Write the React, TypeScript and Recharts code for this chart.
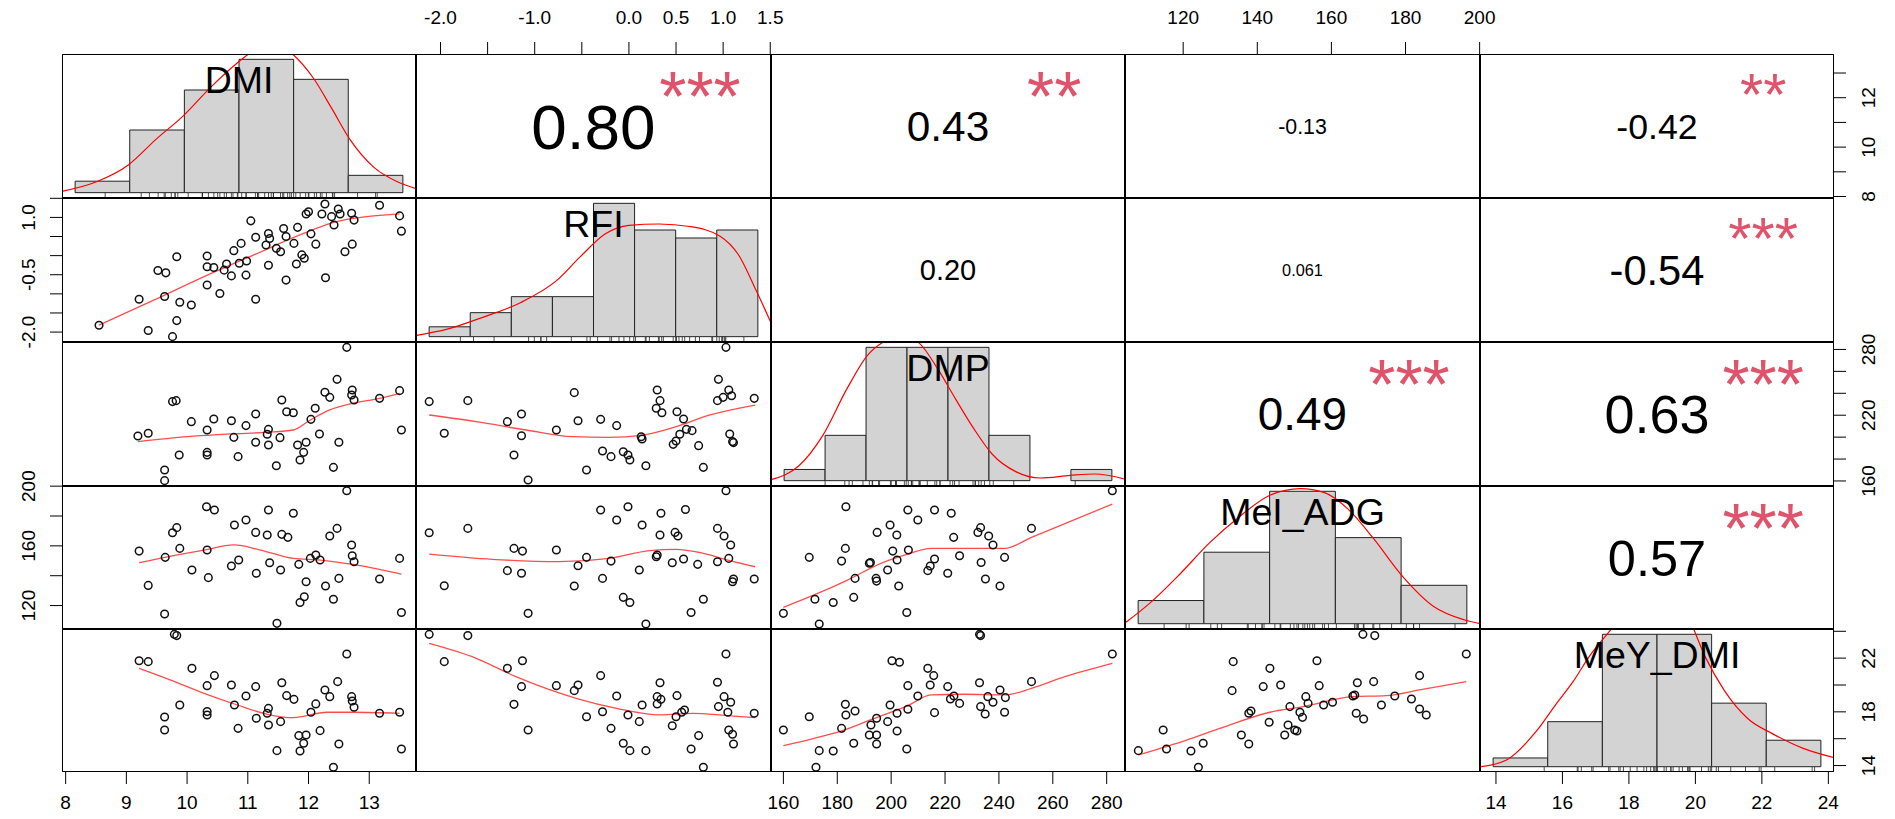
import React from "react";
import { ComposedChart, XAxis, YAxis, Scatter, Line, ReferenceArea } from "recharts";

const FONT = '"Liberation Sans", Arial, Helvetica, sans-serif';

// variable names on the diagonal
const varNames = ["DMI", "RFI", "DMP", "MeI_ADG", "MeY_DMI"];

// axis limits of each variable (data range + 4% like R)
const limits: [number, number][] = [
  [7.94, 13.77],
  [-2.26, 1.508],
  [155.4, 286.8],
  [104.3, 200.1],
  [13.52, 24.17],
];

// tick values and which ones carry a label
const dmiTicks = [8, 9, 10, 11, 12, 13];
const rfiTicks = [-2, -1.5, -1, -0.5, 0, 0.5, 1, 1.5];
const dmpTicks = [160, 180, 200, 220, 240, 260, 280];
const meiTicks = [120, 140, 160, 180, 200];
const meyTicks = [14, 16, 18, 20, 22, 24];

// scatter panels: [x, y]
const rfiVsDmi: [number, number][] = [
  [8.55, -1.82], [9.36, -1.96], [9.76, -2.12], [9.83, -1.7], [9.21, -1.14], [9.63, -1.07], [9.88, -1.22], [10.07, -1.29],
  [9.52, -0.39], [9.65, -0.45], [9.83, -0.03], [10.33, -0.01], [10.33, -0.29], [10.44, -0.31], [10.33, -0.77], [10.54, -0.99],
  [10.61, -0.38], [10.65, -0.22], [10.73, -0.53], [10.77, 0.13], [10.86, -0.2], [10.89, 0.32], [10.98, -0.14], [10.97, -0.51],
  [11.13, -1.14], [11.05, 0.91], [11.13, 0.48], [11.3, 0.28], [11.34, 0.58], [11.36, 0.45], [11.34, -0.25], [11.47, 0.19],
  [11.54, 0.1], [11.59, 0.71], [11.63, 0.5], [11.63, -0.64], [11.76, 0.32], [11.82, 0.74], [11.8, -0.22], [11.89, 0.02],
  [11.93, -0.07], [12.0, 1.15], [12.04, 0.57], [12.12, 0.3], [12.28, -0.58], [12.27, 1.35], [12.22, 1.09], [12.38, 1.02],
  [12.49, 1.22], [12.52, 1.09], [12.42, 0.8], [12.6, 0.1], [12.72, 0.3], [12.71, 1.11], [12.75, 0.93], [13.17, 1.32],
  [13.5, 1.04], [13.53, 0.64], [11.96, 1.09],
];
const rfiVsDmiFit: [number, number][] = [
  [8.55, -1.82], [9.46, -1.16], [10.28, -0.55], [11.1, 0.02], [11.92, 0.58], [12.46, 0.89], [13.5, 1.09],
];

const dmpVsDmi: [number, number][] = [
  [12.63, 281.9], [12.47, 252.7], [12.27, 240.9], [12.35, 236.3], [12.72, 243.0], [12.71, 238.4], [12.75, 233.9], [13.17, 235.4],
  [13.5, 242.4], [13.53, 206.5], [9.76, 232.4], [9.82, 233.3], [9.19, 201.0], [9.36, 203.5], [10.07, 214.1], [10.33, 206.5],
  [10.44, 216.5], [10.73, 215.0], [10.97, 210.5], [11.13, 221.1], [10.77, 199.8], [11.13, 195.3], [11.34, 207.1], [11.34, 192.8],
  [11.32, 202.6], [11.53, 199.5], [11.56, 233.9], [11.64, 223.2], [11.75, 222.3], [12.11, 226.3], [12.04, 216.2], [12.18, 202.9],
  [11.82, 192.8], [11.96, 195.3], [11.92, 186.1], [11.86, 179.1], [11.47, 173.9], [10.84, 182.2], [10.33, 186.1], [10.33, 183.7],
  [9.87, 183.7], [9.63, 170.0], [9.63, 160.3], [12.41, 172.4], [12.5, 195.3],
];
const dmpVsDmiFit: [number, number][] = [
  [9.19, 195.9], [10.01, 200.4], [10.72, 202.9], [11.32, 204.4], [11.75, 206.5], [12.03, 215.6], [12.35, 224.8],
  [12.73, 230.8], [13.17, 235.4], [13.5, 240.0],
];

const dmpVsRfi: [number, number][] = [
  [-2.12, 232.4], [-1.96, 203.5], [-1.71, 233.3], [-1.29, 214.1], [-1.14, 221.1], [-1.14, 201.3], [-1.22, 183.7], [-1.07, 160.9],
  [-0.77, 206.5], [-0.58, 240.6], [-0.54, 215.0], [-0.45, 170.0], [-0.3, 216.2], [-0.28, 187.3], [-0.19, 182.2], [-0.13, 210.5],
  [-0.06, 186.7], [-0.01, 183.7], [0.01, 179.1], [0.13, 200.4], [0.14, 198.3], [0.18, 173.9], [0.3, 243.0], [0.33, 233.3],
  [0.29, 226.3], [0.35, 222.3], [0.51, 223.2], [0.58, 216.5], [0.61, 207.1], [0.67, 205.9], [0.54, 202.6], [0.5, 196.5],
  [0.47, 193.4], [0.74, 192.2], [0.79, 172.4], [0.95, 252.7], [1.03, 281.9], [1.06, 243.0], [0.94, 233.3], [1.0, 236.3],
  [1.09, 237.8], [1.07, 202.9], [1.1, 195.9], [1.11, 195.0], [1.33, 235.4],
];
const dmpVsRfiFit: [number, number][] = [
  [-2.12, 220.2], [-1.62, 214.1], [-1.09, 206.5], [-0.6, 200.4], [-0.21, 199.8], [0.15, 201.9], [0.5, 209.5], [0.86, 220.2], [1.34, 229.3],
];

const meiVsDmi: [number, number][] = [
  [12.63, 196.9], [10.32, 186.2], [10.45, 184.0], [11.34, 184.0], [11.75, 181.8], [10.97, 177.3], [10.78, 174.0], [11.13, 169.0],
  [11.32, 167.3], [11.56, 167.7], [11.66, 165.7], [9.83, 172.2], [9.76, 168.8], [9.88, 158.3], [9.21, 156.5], [9.64, 152.3],
  [10.33, 157.2], [10.08, 143.8], [10.35, 138.7], [9.36, 133.5], [9.63, 114.3], [10.73, 146.5], [10.85, 150.5], [11.14, 141.6],
  [11.36, 148.7], [11.54, 143.8], [11.48, 108.1], [11.84, 147.6], [12.03, 151.6], [12.12, 153.9], [12.19, 150.5], [11.96, 136.0],
  [11.93, 125.9], [11.86, 122.1], [12.28, 133.1], [12.41, 124.2], [12.5, 138.2], [12.35, 166.6], [12.47, 171.7], [12.71, 160.6],
  [12.72, 153.4], [12.75, 149.4], [13.17, 137.8], [13.5, 151.6], [13.53, 115.4],
];
const meiVsDmiFit: [number, number][] = [
  [9.21, 148.7], [9.63, 152.3], [10.28, 157.2], [10.77, 160.6], [11.21, 157.2], [11.75, 151.6], [12.19, 150.5], [12.73, 147.6], [13.53, 141.1],
];

const meiVsRfi: [number, number][] = [
  [-2.12, 168.8], [-1.71, 171.7], [-1.96, 133.3], [-1.22, 158.3], [-1.13, 156.5], [-1.29, 143.4], [-1.14, 141.6], [-1.07, 114.8],
  [-0.77, 157.2], [-0.58, 133.1], [-0.54, 146.7], [-0.45, 152.3], [-0.3, 184.0], [-0.28, 138.2], [-0.19, 149.8], [-0.13, 177.3],
  [-0.06, 125.5], [-0.01, 186.2], [0.01, 122.1], [0.11, 143.8], [0.14, 174.0], [0.18, 107.6], [0.3, 153.9], [0.33, 167.3],
  [0.34, 181.8], [0.49, 169.0], [0.52, 166.6], [0.46, 148.7], [0.58, 151.2], [0.6, 184.4], [0.66, 115.4], [0.73, 147.6],
  [0.79, 124.2], [0.94, 171.7], [1.01, 166.6], [1.08, 160.6], [1.03, 196.9], [0.94, 149.4], [1.06, 151.6], [1.11, 137.8],
  [1.1, 136.0], [1.33, 137.8], [0.29, 152.7],
];
const meiVsRfiFit: [number, number][] = [
  [-2.12, 154.5], [-1.45, 151.0], [-0.74, 149.4], [-0.21, 151.6], [0.22, 156.8], [0.5, 157.7], [0.79, 155.0], [1.07, 150.1], [1.34, 146.0],
];

const meiVsDmp: [number, number][] = [
  [282.1, 196.9], [160.0, 114.8], [173.3, 107.6], [171.7, 124.2], [178.5, 122.1], [186.1, 125.5], [169.6, 152.3], [183.2, 186.2],
  [183.0, 158.3], [181.6, 149.8], [186.6, 138.2], [191.9, 148.3], [192.3, 148.9], [194.4, 138.2], [194.6, 136.4], [198.7, 143.8],
  [194.8, 169.0], [199.6, 174.0], [202.1, 167.3], [200.6, 156.5], [202.2, 150.5], [202.8, 133.1], [206.2, 184.0], [209.9, 177.3],
  [206.4, 157.2], [205.8, 115.4], [213.6, 143.4], [214.5, 146.5], [216.1, 151.2], [216.1, 184.0], [221.0, 141.6], [222.3, 181.8],
  [223.2, 165.7], [225.4, 153.4], [232.2, 169.0], [233.2, 172.2], [236.2, 166.6], [237.8, 160.6], [233.4, 148.9], [235.0, 137.8],
  [242.1, 152.3], [240.4, 133.1], [252.1, 171.7],
];
const meiVsDmpFit: [number, number][] = [
  [160.0, 118.8], [171.4, 127.1], [183.8, 137.1], [196.2, 148.3], [206.2, 154.5], [214.8, 158.3], [227.3, 158.3],
  [242.1, 158.3], [252.1, 165.7], [264.5, 174.9], [282.1, 188.0],
];

const meyVsDmi: [number, number][] = [
  [9.79, 23.77], [9.83, 23.68], [9.21, 21.81], [9.36, 21.74], [10.08, 21.24], [12.63, 22.31], [10.45, 20.7], [10.33, 19.95],
  [10.73, 20.0], [11.13, 19.88], [10.97, 19.18], [11.56, 20.17], [11.64, 19.21], [11.76, 18.93], [12.27, 19.63], [12.35, 19.13],
  [12.48, 20.25], [12.71, 19.13], [12.72, 18.81], [12.75, 18.34], [12.12, 18.59], [12.04, 17.97], [13.17, 17.89], [13.5, 17.97],
  [13.53, 15.23], [9.88, 18.51], [9.63, 17.62], [9.63, 16.65], [10.33, 18.02], [10.33, 17.77], [10.78, 18.51], [10.84, 16.77],
  [11.14, 17.52], [11.34, 18.26], [11.34, 17.02], [11.54, 17.27], [11.32, 17.89], [11.84, 16.23], [11.96, 16.28], [11.92, 15.66],
  [11.86, 15.08], [11.48, 15.11], [12.19, 16.6], [12.5, 15.61], [12.41, 13.87],
];
const meyVsDmiFit: [number, number][] = [
  [9.21, 21.24], [9.73, 20.37], [10.28, 19.38], [10.83, 18.51], [11.32, 17.82], [11.75, 17.57], [12.3, 17.97], [12.74, 17.97], [13.5, 17.89],
];

const meyVsRfi: [number, number][] = [
  [-2.12, 23.77], [-1.71, 23.68], [-1.96, 21.74], [-1.29, 21.24], [-1.13, 21.81], [-1.14, 19.88], [-1.22, 18.56], [-1.07, 16.65],
  [-0.77, 19.95], [-0.58, 19.58], [-0.54, 20.0], [-0.3, 20.7], [-0.13, 19.18], [-0.45, 17.64], [-0.28, 18.01], [-0.19, 16.77],
  [-0.01, 17.77], [0.11, 17.27], [0.14, 18.51], [-0.06, 15.66], [0.01, 15.11], [0.18, 15.11], [0.33, 20.17], [0.3, 19.13],
  [0.34, 18.93], [0.3, 18.59], [0.51, 19.21], [0.46, 16.97], [0.5, 17.64], [0.56, 17.97], [0.59, 18.14], [0.74, 16.23],
  [0.66, 15.23], [0.79, 13.87], [1.03, 22.31], [0.94, 20.2], [1.01, 19.13], [1.08, 18.71], [0.95, 18.39], [1.05, 17.97],
  [1.06, 16.65], [1.1, 16.33], [1.11, 15.61], [1.33, 17.89],
];
const meyVsRfiFit: [number, number][] = [
  [-2.12, 23.1], [-1.62, 21.99], [-1.2, 20.62], [-0.56, 19.01], [-0.13, 18.26], [0.33, 17.77], [0.68, 17.89], [1.04, 17.72], [1.34, 17.57],
];

const meyVsDmp: [number, number][] = [
  [160.0, 16.65], [169.6, 17.64], [172.1, 13.87], [173.3, 15.11], [178.5, 15.08], [186.1, 15.66], [181.6, 16.77], [183.0, 18.56],
  [183.2, 17.77], [186.6, 18.06], [191.9, 16.28], [192.5, 17.02], [194.6, 17.52], [194.6, 16.28], [194.6, 15.61], [198.7, 17.27],
  [199.6, 18.51], [202.2, 17.89], [202.2, 16.57], [200.3, 21.81], [203.1, 21.69], [206.2, 19.95], [206.2, 18.19], [205.8, 15.23],
  [209.9, 19.18], [213.6, 21.24], [215.8, 20.7], [214.5, 20.0], [216.1, 17.94], [221.0, 19.88], [222.0, 18.96], [223.3, 19.18],
  [225.4, 18.63], [232.8, 20.17], [233.2, 18.39], [234.9, 17.84], [235.9, 19.13], [237.8, 18.71], [240.4, 19.63], [242.4, 19.06],
  [242.1, 17.97], [252.1, 20.25], [282.1, 22.31], [232.8, 23.77], [233.2, 23.68],
];
const meyVsDmpFit: [number, number][] = [
  [160.0, 15.48], [171.4, 16.03], [181.4, 16.57], [193.8, 17.52], [206.2, 18.46], [214.8, 19.26], [227.3, 19.31],
  [242.1, 19.26], [252.1, 19.75], [264.5, 20.62], [282.1, 21.61],
];

const meyVsMei: [number, number][] = [
  [107.9, 15.11], [114.6, 16.65], [115.5, 15.23], [122.1, 15.08], [124.1, 13.87], [125.4, 15.66], [133.5, 21.74], [133.2, 19.58],
  [135.7, 16.28], [137.7, 15.61], [137.7, 17.89], [138.3, 18.06], [141.6, 19.88], [143.4, 21.24], [143.2, 17.22], [146.3, 20.0],
  [147.4, 16.28], [148.3, 17.02], [148.8, 18.39], [150.1, 16.65], [150.7, 16.57], [151.5, 17.97], [152.2, 17.59], [153.1, 19.13],
  [153.7, 18.63], [156.1, 21.81], [156.7, 19.95], [157.9, 18.51], [160.3, 18.71], [165.8, 19.18], [166.3, 19.26], [167.0, 20.17],
  [166.7, 17.89], [168.7, 17.47], [171.4, 20.25], [173.5, 18.51], [177.1, 19.18], [181.6, 18.96], [183.8, 20.7], [183.8, 18.21],
  [185.6, 17.77], [196.4, 22.31], [168.5, 23.77], [171.7, 23.68],
];
const meyVsMeiFit: [number, number][] = [
  [107.9, 14.79], [120.9, 15.9], [129.9, 16.77], [143.4, 17.97], [152.4, 18.39], [165.8, 19.13], [174.8, 19.21], [183.8, 19.63], [196.4, 20.25],
];

// histograms: breaks, bar heights (relative density), density curve
const dmiBreaks = [8, 9, 10, 11, 12, 13, 14];
const dmiHeights = [0.086, 0.47, 0.77, 1, 0.85, 0.13];
const dmiDensity: [number, number][] = [
  [7.76, 0.01], [8.38, 0.08], [8.98, 0.21], [9.48, 0.4], [9.99, 0.58], [10.48, 0.79], [10.99, 0.98], [11.36, 1.09],
  [11.65, 1.13], [11.98, 1.04], [12.36, 0.86], [12.7, 0.63], [13.03, 0.4], [13.47, 0.19], [13.91, 0.08], [14.24, 0.03],
];
const rfiBreaks = [-2.5, -2, -1.5, -1, -0.5, 0, 0.5, 1, 1.5];
const rfiHeights = [0.074, 0.18, 0.3, 0.3, 1, 0.8, 0.74, 0.8];
const rfiDensity: [number, number][] = [
  [-2.65, 0.01], [-2.28, 0.056], [-1.84, 0.147], [-1.39, 0.255], [-0.95, 0.42], [-0.66, 0.6], [-0.36, 0.77],
  [-0.07, 0.835], [0.3, 0.845], [0.67, 0.826], [1.04, 0.754], [1.26, 0.618], [1.48, 0.346], [1.67, 0.09],
];
const dmpBreaks = [140, 160, 180, 200, 220, 240, 260, 280, 300];
const dmpHeights = [0.084, 0.34, 1, 1, 1, 0.34, 0, 0.084];
const dmpDensity: [number, number][] = [
  [134.1, 0.01], [147.1, 0.11], [158.9, 0.34], [170.7, 0.69], [180.7, 0.94], [188.4, 1.04], [197.2, 1.09], [206.1, 1.03],
  [214.9, 0.84], [223.8, 0.61], [232.6, 0.39], [241.5, 0.2], [253.3, 0.066], [265.1, 0.02], [279.8, 0.04], [291.6, 0.05], [307.0, 0.01],
];
const meiBreaks = [100, 120, 140, 160, 180, 200];
const meiHeights = [0.175, 0.54, 1, 0.65, 0.29];
const meiDensity: [number, number][] = [
  [96.3, 0.011], [103.3, 0.15], [112.5, 0.37], [121.7, 0.61], [130.9, 0.81], [140.1, 0.97], [149.4, 1.02],
  [156.7, 0.99], [164.1, 0.86], [171.4, 0.65], [180.7, 0.35], [189.9, 0.13], [199.1, 0.03], [204.2, 0.0],
];
const meyBreaks = [12, 14, 16, 18, 20, 22, 24];
const meyHeights = [0.066, 0.34, 1, 1, 0.48, 0.2];
const meyDensity: [number, number][] = [
  [11.56, 0.0], [12.49, 0.05], [13.59, 0.27], [14.26, 0.46], [14.92, 0.64], [15.58, 0.85], [16.25, 1.02], [16.91, 1.19],
  [17.66, 1.33], [18.46, 1.33], [19.12, 1.14], [19.79, 0.82], [20.45, 0.58], [21.34, 0.36], [22.22, 0.25], [23.33, 0.14], [24.52, 0.066],
];

// upper triangle: correlation and significance stars
const corrRows = [0, 0, 0, 0, 1, 1, 1, 2, 2, 3];
const corrCols = [1, 2, 3, 4, 2, 3, 4, 3, 4, 4];
const corrText = ["0.80", "0.43", "-0.13", "-0.42", "0.20", "0.061", "-0.54", "0.49", "0.63", "0.57"];
const corrStars = ["***", "**", "", "**", "", "", "***", "***", "***", "***"];

// layout of the grid (px)
const colX = [62, 416, 771, 1125, 1480, 1834];
const rowY = [54, 198, 342, 486, 629, 772];
const M0 = { top: 0, right: 0, bottom: 0, left: 0 };
const TICK_FS = 19;

const toXY = (a: [number, number][]) => a.map(([x, y]) => ({ x, y }));

// rough Arial widths, used the way R sizes the text (cex = 0.8/strwidth)
const emWidth = (s: string) =>
  s.split("").reduce((w, ch) => w + (ch === "." ? 0.278 : ch === "-" ? 0.333 : 0.556), 0);

const Ring = (p: any) => <circle cx={p.cx} cy={p.cy} r={3.8} fill="none" stroke="#111" strokeWidth={1.5} />;
const RugTick = (p: any) => <line x1={p.cx} x2={p.cx} y1={p.cy} y2={p.cy - 5} stroke="#222" strokeWidth={0.8} />;

const CorrLabel = (p: any) => {
  const t: string = p.payload.t;
  const fs = (113 * (Math.abs(parseFloat(t)) + 0.3)) / emWidth(t);
  return (
    <text x={p.cx} y={p.cy + 0.358 * fs} textAnchor="middle" fontSize={fs} fontFamily={FONT} fill="#000">
      {t}
    </text>
  );
};
const StarLabel = (p: any) => {
  const fs = 136 / emWidth(p.payload.t);
  return (
    <text x={p.cx} y={p.cy - 2 + 0.58 * fs} textAnchor="middle" fontSize={fs} fontFamily={FONT} fill="#DF536B">
      {p.payload.s}
    </text>
  );
};

function ScatterPanel({ row, col, pts, fit }: { row: number; col: number; pts: [number, number][]; fit: [number, number][] }) {
  const w = colX[col + 1] - colX[col];
  const h = rowY[row + 1] - rowY[row];
  return (
    <div style={{ position: "absolute", left: colX[col], top: rowY[row] }}>
      <ComposedChart width={w} height={h} margin={M0}>
        <XAxis type="number" dataKey="x" domain={limits[col]} hide />
        <YAxis type="number" dataKey="y" domain={limits[row]} hide />
        <Line data={toXY(fit)} dataKey="y" type="monotone" stroke="#FF2020" strokeOpacity={0.8} strokeWidth={1.3} dot={false} isAnimationActive={false} />
        <Scatter data={toXY(pts)} shape={Ring} isAnimationActive={false} />
      </ComposedChart>
    </div>
  );
}

function HistPanel({ i, breaks, heights, dens, rug }: { i: number; breaks: number[]; heights: number[]; dens: [number, number][]; rug: number[] }) {
  const w = colX[i + 1] - colX[i];
  const h = rowY[i + 1] - rowY[i];
  const span = breaks[breaks.length - 1] - breaks[0];
  const xDom: [number, number] = [breaks[0] - 0.04 * span, breaks[breaks.length - 1] + 0.04 * span];
  return (
    <div style={{ position: "absolute", left: colX[i], top: rowY[i] }}>
      <ComposedChart width={w} height={h} margin={M0}>
        <XAxis type="number" dataKey="x" domain={xDom} hide allowDataOverflow />
        <YAxis type="number" dataKey="y" domain={[-0.04, 1.04]} hide allowDataOverflow />
        {heights.map((v, k) => (
          <ReferenceArea key={k} x1={breaks[k]} x2={breaks[k + 1]} y1={0} y2={v} fill="#D3D3D3" fillOpacity={1} stroke="#222" strokeWidth={1} ifOverflow="visible" />
        ))}
        <Line data={toXY(dens)} dataKey="y" type="monotone" stroke="#FF0000" strokeWidth={1.2} dot={false} isAnimationActive={false} />
        <Scatter data={rug.map((x) => ({ x, y: -0.04 }))} shape={RugTick} isAnimationActive={false} />
      </ComposedChart>
    </div>
  );
}

function CorrPanel({ k }: { k: number }) {
  const row = corrRows[k];
  const col = corrCols[k];
  const w = colX[col + 1] - colX[col];
  const h = rowY[row + 1] - rowY[row];
  return (
    <div style={{ position: "absolute", left: colX[col], top: rowY[row] }}>
      <ComposedChart width={w} height={h} margin={M0}>
        <XAxis type="number" dataKey="x" domain={[0, 1]} hide />
        <YAxis type="number" dataKey="y" domain={[0, 1]} hide />
        <Scatter data={[{ x: 0.5, y: 0.5, t: corrText[k] }]} shape={CorrLabel} isAnimationActive={false} />
        {corrStars[k] && (
          <Scatter data={[{ x: 0.8, y: 0.8, t: corrText[k], s: corrStars[k] }]} shape={StarLabel} isAnimationActive={false} />
        )}
      </ComposedChart>
    </div>
  );
}

// outer axis along the top or bottom of a column
function XStrip({ col, side, ticks, shown, digits }: { col: number; side: "top" | "bottom"; ticks: number[]; shown: number[]; digits: number }) {
  const w = colX[col + 1] - colX[col];
  const H = side === "top" ? rowY[0] : 819 - rowY[5];
  return (
    <div style={{ position: "absolute", left: colX[col], top: side === "top" ? 0 : rowY[5] - 1 }}>
      <ComposedChart width={w} height={H + 1} margin={M0} data={ticks.map((v) => ({ x: v }))}>
        <XAxis
          type="number"
          dataKey="x"
          domain={limits[col]}
          allowDataOverflow
          orientation={side}
          height={H}
          ticks={ticks}
          interval={0}
          tickSize={12}
          tickMargin={side === "top" ? 18 : 12}
          axisLine={false}
          tickLine={{ stroke: "#000" }}
          tick={{ fontSize: TICK_FS, fill: "#000", fontFamily: FONT }}
          tickFormatter={(v: number) => (shown.includes(v) ? v.toFixed(digits) : "")}
        />
        <YAxis hide domain={[0, 1]} />
      </ComposedChart>
    </div>
  );
}

// outer axis along the left or right of a row, labels turned like R does
function YStrip({ row, side, ticks, shown, digits }: { row: number; side: "left" | "right"; ticks: number[]; shown: number[]; digits: number }) {
  const h = rowY[row + 1] - rowY[row];
  const W = side === "left" ? colX[0] : 1895 - colX[5];
  const RotTick = (p: any) => {
    const v: number = p.payload.value;
    if (!shown.includes(v)) return <g />;
    const cx = side === "left" ? p.x - 20 : p.x + 20;
    return (
      <text x={cx} y={p.y} dy={0.358 * TICK_FS} transform={`rotate(-90 ${cx} ${p.y})`} textAnchor="middle" fontSize={TICK_FS} fontFamily={FONT} fill="#000">
        {v.toFixed(digits)}
      </text>
    );
  };
  return (
    <div style={{ position: "absolute", left: side === "left" ? 0 : colX[5] - 1, top: rowY[row] }}>
      <ComposedChart width={W + 1} height={h} margin={M0}>
        <XAxis hide type="number" domain={[0, 1]} />
        <YAxis
          type="number"
          domain={[limits[row][0], limits[row][1]]}
          allowDataOverflow
          orientation={side}
          width={W}
          ticks={ticks}
          interval={0}
          tickSize={12}
          axisLine={false}
          tickLine={{ stroke: "#000" }}
          tick={RotTick}
        />
      </ComposedChart>
    </div>
  );
}

export default function App() {
  const lower = [
    { row: 1, col: 0, pts: rfiVsDmi, fit: rfiVsDmiFit },
    { row: 2, col: 0, pts: dmpVsDmi, fit: dmpVsDmiFit },
    { row: 2, col: 1, pts: dmpVsRfi, fit: dmpVsRfiFit },
    { row: 3, col: 0, pts: meiVsDmi, fit: meiVsDmiFit },
    { row: 3, col: 1, pts: meiVsRfi, fit: meiVsRfiFit },
    { row: 3, col: 2, pts: meiVsDmp, fit: meiVsDmpFit },
    { row: 4, col: 0, pts: meyVsDmi, fit: meyVsDmiFit },
    { row: 4, col: 1, pts: meyVsRfi, fit: meyVsRfiFit },
    { row: 4, col: 2, pts: meyVsDmp, fit: meyVsDmpFit },
    { row: 4, col: 3, pts: meyVsMei, fit: meyVsMeiFit },
  ];
  const hists = [
    { breaks: dmiBreaks, heights: dmiHeights, dens: dmiDensity, rug: rfiVsDmi.map((p) => p[0]) },
    { breaks: rfiBreaks, heights: rfiHeights, dens: rfiDensity, rug: dmpVsRfi.map((p) => p[0]) },
    { breaks: dmpBreaks, heights: dmpHeights, dens: dmpDensity, rug: meiVsDmp.map((p) => p[0]) },
    { breaks: meiBreaks, heights: meiHeights, dens: meiDensity, rug: meyVsMei.map((p) => p[0]) },
    { breaks: meyBreaks, heights: meyHeights, dens: meyDensity, rug: meyVsDmi.map((p) => p[1]) },
  ];

  return (
    <div style={{ position: "absolute", left: 0, top: 0, width: 1895, height: 819, background: "#fff", fontFamily: FONT, overflow: "hidden" }}>
      <style>{".recharts-surface{overflow:visible}"}</style>

      {/* outer axes */}
      <XStrip col={1} side="top" ticks={rfiTicks} shown={[-2, -1, 0, 0.5, 1, 1.5]} digits={1} />
      <XStrip col={3} side="top" ticks={meiTicks} shown={meiTicks} digits={0} />
      <XStrip col={0} side="bottom" ticks={dmiTicks} shown={dmiTicks} digits={0} />
      <XStrip col={2} side="bottom" ticks={dmpTicks} shown={dmpTicks} digits={0} />
      <XStrip col={4} side="bottom" ticks={meyTicks} shown={meyTicks} digits={0} />
      <YStrip row={0} side="right" ticks={dmiTicks} shown={[8, 10, 12]} digits={0} />
      <YStrip row={1} side="left" ticks={rfiTicks} shown={[-2, -0.5, 1]} digits={1} />
      <YStrip row={2} side="right" ticks={dmpTicks} shown={[160, 220, 280]} digits={0} />
      <YStrip row={3} side="left" ticks={meiTicks} shown={[120, 160, 200]} digits={0} />
      <YStrip row={4} side="right" ticks={meyTicks} shown={[14, 18, 22]} digits={0} />

      {/* diagonal histograms */}
      {hists.map((hh, i) => (
        <HistPanel key={"h" + i} i={i} {...hh} />
      ))}

      {/* lower triangle scatter plots */}
      {lower.map((p, k) => (
        <ScatterPanel key={"s" + k} {...p} />
      ))}

      {/* upper triangle correlations */}
      {corrText.map((_, k) => (
        <CorrPanel key={"c" + k} k={k} />
      ))}

      {/* variable names */}
      {varNames.map((name, i) => (
        <div
          key={name}
          style={{
            position: "absolute",
            left: colX[i],
            width: colX[i + 1] - colX[i],
            top: rowY[i] + 26 - 18.3,
            textAlign: "center",
            fontSize: 37.5,
            lineHeight: 1,
            color: "#000",
          }}
        >
          {name}
        </div>
      ))}

      {/* panel boxes */}
      {[0, 1, 2, 3, 4].map((r) =>
        [0, 1, 2, 3, 4].map((c) => (
          <div
            key={`b${r}${c}`}
            style={{
              position: "absolute",
              left: colX[c],
              top: rowY[r],
              width: colX[c + 1] - colX[c],
              height: rowY[r + 1] - rowY[r],
              border: "1px solid #000",
              boxSizing: "border-box",
              pointerEvents: "none",
            }}
          />
        ))
      )}
    </div>
  );
}
